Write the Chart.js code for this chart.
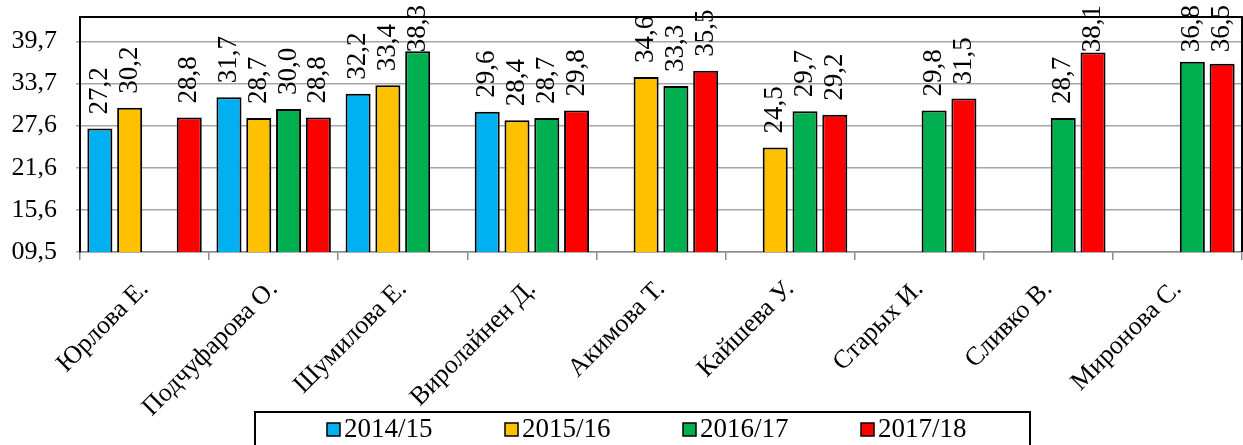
<!DOCTYPE html>
<html>
<head>
<meta charset="utf-8">
<script src="https://cdn.jsdelivr.net/npm/chart.js@4/dist/chart.umd.min.js"></script>
<style>
html,body{margin:0;padding:0;background:#fff;}
canvas{display:block;}
</style>
</head>
<body>
<canvas id="c" width="1243" height="445"></canvas>
<script>
const categories = ['Юрлова Е.','Подчуфарова О.','Шумилова Е.','Виролайнен Д.','Акимова Т.','Кайшева У.','Старых И.','Сливко В.','Миронова С.'];
const seriesLabels = ['2014/15','2015/16','2016/17','2017/18'];
const s2014 = [27.2, 31.7, 32.2, 29.6, null, null, null, null, null];
const s2015 = [30.2, 28.7, 33.4, 28.4, 34.6, 24.5, null, null, null];
const s2016 = [null, 30.0, 38.3, 28.7, 33.3, 29.7, 29.8, 28.7, 36.8];
const s2017 = [28.8, 28.8, null, 29.8, 35.5, 29.2, 31.5, 38.1, 36.5];
const seriesColors = ['#00B0F0','#FFC000','#00B050','#FF0000'];
const yTickValues = [9.5, 15.54, 21.58, 27.62, 33.66, 39.7];
const yTickLabels = ['09,5','15,6','21,6','27,6','33,7','39,7'];
const yMin = 9.5, yMax = 43.2;

const serif = '"Liberation Serif", "Times New Roman", serif';
const seriesData = [s2014, s2015, s2016, s2017];

const frame = {
  id: 'frame',
  afterDatasetsDraw(chart) {
    const {ctx, chartArea: a} = chart;
    ctx.save();
    ctx.strokeStyle = '#000';
    ctx.lineWidth = 2;
    ctx.beginPath();
    ctx.moveTo(a.left, a.top);
    ctx.lineTo(a.right, a.top);
    ctx.lineTo(a.right, a.bottom);
    ctx.stroke();
    ctx.restore();
  }
};

const valueLabels = {
  id: 'valueLabels',
  afterDraw(chart) {
    const ctx = chart.ctx;
    ctx.save();
    ctx.font = '27px ' + serif;
    ctx.fillStyle = '#000';
    ctx.textAlign = 'left';
    ctx.textBaseline = 'middle';
    chart.data.datasets.forEach((ds, di) => {
      const meta = chart.getDatasetMeta(di);
      meta.data.forEach((bar, i) => {
        const v = ds.data[i];
        if (v === null || v === undefined) return;
        const txt = v.toFixed(1).replace('.', ',');
        const len = ctx.measureText(txt).width;
        let bottom = bar.y - 14;
        if (bottom - len < 5) bottom = 5 + len;
        ctx.save();
        ctx.translate(bar.x, bottom);
        ctx.rotate(-Math.PI / 2);
        ctx.fillText(txt, 0, 0);
        ctx.restore();
      });
    });
    ctx.restore();
  }
};

const boxLegend = {
  id: 'boxLegend',
  afterDraw(chart) {
    const ctx = chart.ctx;
    ctx.save();
    ctx.strokeStyle = '#000';
    ctx.lineWidth = 2;
    ctx.strokeRect(255, 412, 775, 45);
    ctx.font = '27px ' + serif;
    ctx.textBaseline = 'middle';
    ctx.textAlign = 'left';
    chart.data.datasets.forEach((ds, i) => {
      const x = 327 + i * 178;
      const y = 423;
      ctx.fillStyle = ds.backgroundColor;
      ctx.fillRect(x, y, 13, 13);
      ctx.lineWidth = 1.5;
      ctx.strokeStyle = '#000';
      ctx.strokeRect(x, y, 13, 13);
      ctx.fillStyle = '#000';
      ctx.fillText(ds.label, x + 17, y + 7);
    });
    ctx.restore();
  }
};

new Chart(document.getElementById('c'), {
  type: 'bar',
  data: {
    labels: categories,
    datasets: seriesData.map((d, i) => ({
      label: seriesLabels[i],
      data: d,
      backgroundColor: seriesColors[i],
      borderColor: '#000',
      borderWidth: 2,
      categoryPercentage: 0.923,
      barPercentage: 0.84
    }))
  },
  options: {
    responsive: false,
    devicePixelRatio: 1,
    animation: false,
    layout: { padding: { top: 17, right: 1, bottom: 0, left: 0 } },
    plugins: { legend: { display: false }, tooltip: { enabled: false } },
    scales: {
      x: {
        afterFit(scale) { scale.height = 193; },
        grid: { offset: true, drawOnChartArea: false, tickLength: 8, color: '#8c8c8c', lineWidth: 1.5 },
        border: { color: '#8c8c8c', width: 1.5 },
        ticks: {
          minRotation: 45, maxRotation: 45, autoSkip: false, padding: 14,
          color: '#000', font: { family: serif, size: 26 }
        }
      },
      y: {
        min: yMin, max: yMax,
        afterFit(scale) { scale.width = 80; scale.paddingTop = 0; scale.paddingBottom = 0; },
        afterBuildTicks(scale) { scale.ticks = yTickValues.map(v => ({ value: v })); },
        grid: { color: '#a6a6a6', lineWidth: 1.5, tickLength: 4 },
        border: { color: '#000', width: 2 },
        ticks: {
          padding: 19, color: '#000', font: { family: serif, size: 26 },
          callback(value, index) { return yTickLabels[index]; }
        }
      }
    }
  },
  plugins: [frame, valueLabels, boxLegend]
});
</script>
</body>
</html>
